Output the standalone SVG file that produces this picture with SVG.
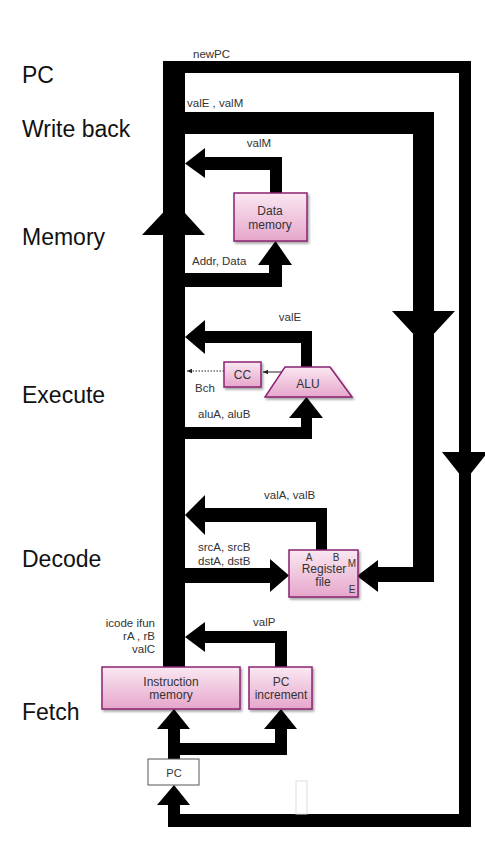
<svg xmlns="http://www.w3.org/2000/svg" width="485" height="850" viewBox="0 0 485 850">
<defs>
<linearGradient id="pink" x1="0" y1="0" x2="0" y2="1">
<stop offset="0" stop-color="#fae8f2"/>
<stop offset="1" stop-color="#e6a6cb"/>
</linearGradient>
<filter id="sh" x="-10%" y="-10%" width="130%" height="140%">
<feDropShadow dx="1.5" dy="2" stdDeviation="1" flood-color="#000" flood-opacity="0.35"/>
</filter>
<marker id="sa" viewBox="0 0 8 8" refX="7" refY="4" markerWidth="6" markerHeight="6" orient="auto">
<path d="M0,1 L7,4 L0,7 z" fill="#222"/>
</marker>
</defs>
<style>
.stage{font-family:"Liberation Sans",Arial,sans-serif;font-size:23px;fill:#111}
.lbl{font-family:"Liberation Sans",Arial,sans-serif;font-size:11.5px;fill:#333}
.bt{font-family:"Liberation Sans",Arial,sans-serif;font-size:12px;fill:#333;text-anchor:middle}
.sm{font-family:"Liberation Sans",Arial,sans-serif;font-size:10px;fill:#333;text-anchor:middle}
.box{fill:url(#pink);stroke:#8b2372;stroke-width:1.5;filter:url(#sh)}
.bus{fill:#000}
</style>
<rect width="485" height="850" fill="#fff"/>

<g id="stage-labels">
<text class="stage" x="22" y="83">PC</text>
<text class="stage" x="22" y="137">Write back</text>
<text class="stage" x="22" y="245">Memory</text>
<text class="stage" x="22" y="403">Execute</text>
<text class="stage" x="22" y="567">Decode</text>
<text class="stage" x="22" y="720">Fetch</text>
</g>

<g id="connectors">
<!-- main bus -->
<rect class="bus" x="163" y="61" width="22" height="606"/>
<polygon class="bus" points="142,235 205,235 174,201"/>
<!-- newPC outer loop -->
<rect class="bus" x="163" y="61" width="308" height="12"/>
<rect class="bus" x="459" y="61" width="12" height="766"/>
<polygon class="bus" points="442,452 488,452 465,481"/>
<rect class="bus" x="168" y="814" width="303" height="13"/>
<rect class="bus" x="168" y="803" width="12" height="24"/>
<polygon class="bus" points="157,805 190,805 174,785"/>
<!-- valE, valM loop -->
<rect class="bus" x="185" y="112" width="249" height="22"/>
<rect class="bus" x="413" y="112" width="21" height="470"/>
<polygon class="bus" points="392,311 455,311 423.5,345"/>
<rect class="bus" x="376" y="567" width="58" height="15"/>
<polygon class="bus" points="378,560 378,592 357,576"/>
<!-- valM -->
<rect class="bus" x="270" y="157" width="12" height="37"/>
<rect class="bus" x="203" y="157" width="79" height="13"/>
<polygon class="bus" points="205,148 205,178 185,163.5"/>
<!-- Addr, Data -->
<rect class="bus" x="185" y="273" width="97" height="14"/>
<rect class="bus" x="269" y="263" width="13" height="24"/>
<polygon class="bus" points="258,265 292,265 275.5,241"/>
<!-- valE -->
<rect class="bus" x="203" y="331" width="109" height="12"/>
<rect class="bus" x="301" y="331" width="11" height="37"/>
<polygon class="bus" points="205,320 205,354 185,337"/>
<!-- aluA, aluB -->
<rect class="bus" x="185" y="427" width="127" height="12"/>
<rect class="bus" x="301" y="416" width="11" height="23"/>
<polygon class="bus" points="289,418 323,418 306.5,397"/>
<!-- CC / Bch -->
<line x1="282" y1="372" x2="263" y2="372" stroke="#222" stroke-width="1" marker-end="url(#sa)"/>
<line x1="224" y1="371" x2="187" y2="371" stroke="#222" stroke-width="1" stroke-dasharray="1.5,1.5" marker-end="url(#sa)"/>
<!-- valA, valB -->
<rect class="bus" x="203" y="508" width="124" height="14"/>
<rect class="bus" x="316" y="508" width="11" height="43"/>
<polygon class="bus" points="205,495 205,535 185,515"/>
<!-- srcA, srcB -->
<rect class="bus" x="185" y="568" width="87" height="15"/>
<polygon class="bus" points="270,559 270,592 289,575.5"/>
<!-- valP -->
<rect class="bus" x="203" y="631" width="84" height="12"/>
<rect class="bus" x="275" y="631" width="12" height="37"/>
<polygon class="bus" points="205,622 205,652 185,637"/>
<!-- PC to instruction memory / PC increment -->
<rect class="bus" x="168" y="727" width="12" height="32"/>
<polygon class="bus" points="157,729 190,729 174,709"/>
<rect class="bus" x="168" y="743" width="119" height="12"/>
<rect class="bus" x="275" y="727" width="12" height="28"/>
<polygon class="bus" points="264,729 297,729 281,709"/>
</g>

<g id="labels">
<text class="lbl" x="193" y="58">newPC</text>
<text class="lbl" x="187" y="107">valE , valM</text>
<text class="lbl" x="259" y="147" text-anchor="middle">valM</text>
<text class="lbl" x="192" y="265">Addr, Data</text>
<text class="lbl" x="290" y="321" text-anchor="middle">valE</text>
<text class="lbl" x="195" y="392">Bch</text>
<text class="lbl" x="198" y="418">aluA,  aluB</text>
<text class="lbl" x="264" y="499">valA,  valB</text>
<text class="lbl" x="198" y="551">srcA,  srcB</text>
<text class="lbl" x="198" y="565">dstA,  dstB</text>
<text class="lbl" x="155" y="627" text-anchor="end">icode ifun</text>
<text class="lbl" x="155" y="640" text-anchor="end">rA ,  rB</text>
<text class="lbl" x="155" y="653" text-anchor="end">valC</text>
<text class="lbl" x="253" y="626">valP</text>
</g>

<g id="data-memory">
<rect class="box" x="234" y="193" width="73" height="48"/>
<text class="bt" x="270" y="215">Data</text>
<text class="bt" x="270" y="229">memory</text>
</g>

<g id="cc">
<rect class="box" x="224" y="362" width="37" height="25"/>
<text class="bt" x="242.5" y="379">CC</text>
</g>

<g id="alu">
<polygon class="box" points="285,367 330,367 352,397 265,397"/>
<text class="bt" x="308" y="388">ALU</text>
</g>

<g id="register-file">
<rect class="box" x="289" y="550" width="69" height="47"/>
<text class="sm" x="309" y="561">A</text>
<text class="sm" x="336" y="561">B</text>
<text class="bt" x="324" y="573">Register</text>
<text class="bt" x="323" y="586">file</text>
<text class="sm" x="352" y="567">M</text>
<text class="sm" x="352" y="593">E</text>
</g>

<g id="instruction-memory">
<rect class="box" x="102" y="667" width="138" height="42"/>
<text class="bt" x="171" y="686">Instruction</text>
<text class="bt" x="171" y="699">memory</text>
</g>

<g id="pc-increment">
<rect class="box" x="249" y="667" width="63" height="42"/>
<text class="bt" x="281" y="686">PC</text>
<text class="bt" x="281" y="699">increment</text>
</g>

<g id="pc">
<rect x="148" y="759" width="51" height="26" fill="#fff" stroke="#555" stroke-width="1"/>
<text class="bt" x="174" y="777" style="font-size:11px">PC</text>
</g>

<g id="blank-bar">
<rect x="296" y="781" width="11" height="33" fill="#fff" stroke="#ddd" stroke-width="1"/>
</g>
</svg>
